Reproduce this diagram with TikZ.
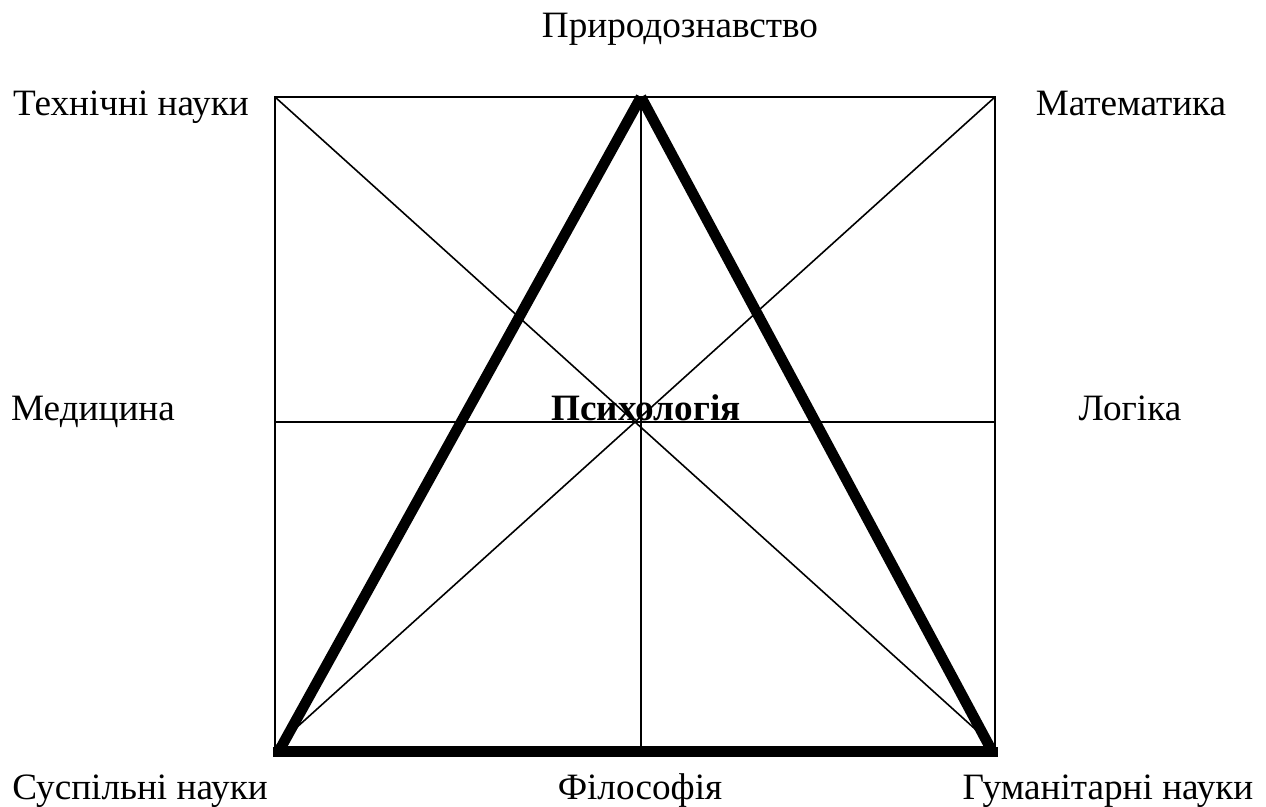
\documentclass[tikz,border=0pt]{standalone}
\usepackage{fontspec}
\setmainfont{Liberation Serif}
\usepackage{tikz}
\usetikzlibrary{positioning}

\begin{document}
\begin{tikzpicture}[
  x=0.5pt, y=-0.5pt,
  thin line/.style={draw=black, line width=0.8pt},
  thick line/.style={draw=black, line width=5.3pt, line cap=butt},
  label/.style={anchor=base, inner sep=0pt, font=\fontsize{18.6}{21}\selectfont},
  centre/.style={label, font=\fontsize{18.6}{21}\selectfont\bfseries},
]
\useasboundingbox (0,0) rectangle (1266,807);

%% Kvadrat
\coordinate (tl) at (275, 97);
\coordinate (tr) at (995, 97);
\coordinate (br) at (995,747);
\coordinate (bl) at (275,747);
\coordinate (tm) at (641, 97);
\coordinate (bm) at (641,747);
\coordinate (ml) at (275,422);
\coordinate (mr) at (995,422);

\draw[thin line] (tl) -- (tr) -- (br) -- (bl) -- cycle;
\draw[thin line] (tl) -- (br);
\draw[thin line] (tr) -- (bl);
\draw[thin line] (tm) -- (bm);
\draw[thin line] (ml) -- (mr);

%% Trykutnyk
\coordinate (apex) at (641, 97);
\coordinate (tril) at (279,751);
\coordinate (trir) at (992,751);
\draw[thick line] (apex) -- (tril);
\draw[thick line] (apex) -- (trir);
\draw[thick line] (273,752) coordinate (barl) -- (998,752) coordinate (barr);

%% Pidpysy
\node[label]  (pryroda) at (680,  38) {Природознавство};
\node[label]  (tekhn)   at (131, 116) {Технічні науки};
\node[label]  (matem)   at (1131,116) {Математика};
\node[label]  (medyc)   at (93,  421) {Медицина};
\node[centre] (psykh)   at (646, 421) {Психологія};
\node[label]  (logika)  at (1130,421) {Логіка};
\node[label]  (suspil)  at (140, 800) {Суспільні науки};
\node[label]  (filos)   at (640, 800) {Філософія};
\node[label]  (human)   at (1108,800) {Гуманітарні науки};

\end{tikzpicture}
\end{document}
